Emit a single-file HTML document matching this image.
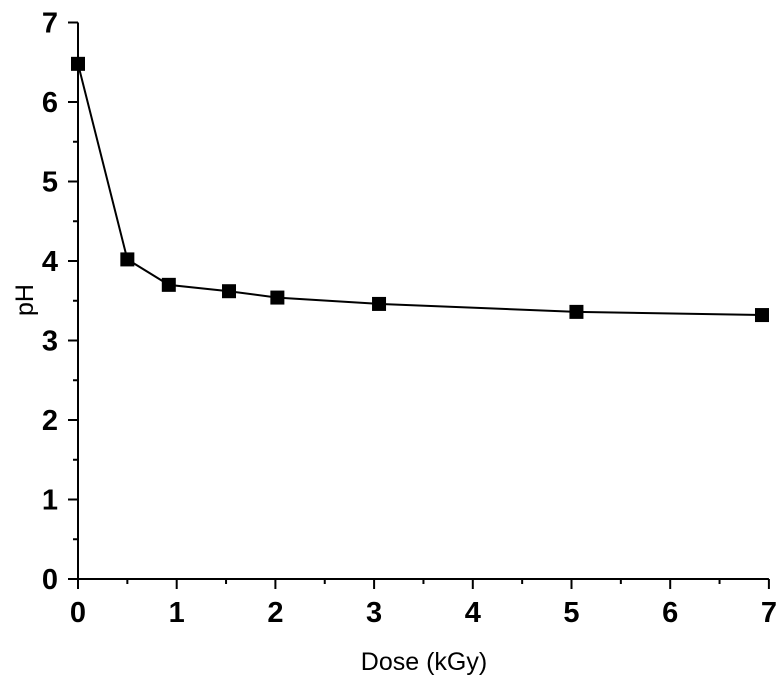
<!DOCTYPE html>
<html><head><meta charset="utf-8"><style>
html,body{margin:0;padding:0;background:#fff;}
svg text{font-family:"Liberation Sans",Arial,sans-serif;fill:#000;}
</style></head><body>
<svg id="chart" width="784" height="680" viewBox="0 0 784 680" xmlns="http://www.w3.org/2000/svg">
<g id="axes"></g>
<g id="series"></g>
<text x="424" y="670" font-size="25" text-anchor="middle">Dose (kGy)</text>
<text transform="translate(33,300) rotate(-90)" font-size="25" text-anchor="middle">pH</text>
</svg>
<script>
const doses = [0, 0.5, 0.92, 1.53, 2.02, 3.05, 5.05, 6.93];
const phValues = [6.48, 4.02, 3.70, 3.62, 3.54, 3.46, 3.36, 3.32];
const xTickLabels = ["0","1","2","3","4","5","6","7"];
const yTickLabels = ["0","1","2","3","4","5","6","7"];

const NS = "http://www.w3.org/2000/svg";
const x = v => 78 + v * 98.7;
const y = v => 579 - v * 79.5;
function mk(tag, attrs, parent){const e=document.createElementNS(NS,tag);for(const k in attrs)e.setAttribute(k,attrs[k]);parent.appendChild(e);return e;}
const axes = document.getElementById('axes');
const series = document.getElementById('series');

const xl = mk('line',{x1:x(0)-10,y1:y(0),x2:x(7),y2:y(0),stroke:'#000','stroke-width':2},axes);


const yl = mk('line',{x1:x(0),y1:y(0)+10,x2:x(0),y2:y(7),stroke:'#000','stroke-width':2},axes);



xTickLabels.forEach((lab,i)=>{
  const v = Number(lab);
  mk('line',{x1:x(v),y1:y(0),x2:x(v),y2:y(0)+10,stroke:'#000','stroke-width':2},axes);
  if(i<xTickLabels.length-1) mk('line',{x1:x(v+0.5),y1:y(0),x2:x(v+0.5),y2:y(0)+5,stroke:'#000','stroke-width':2},axes);
  const t = mk('text',{x:x(v),y:y(0)+43,'font-size':29,'font-weight':'bold','text-anchor':'middle'},axes);
  t.textContent = lab;
  
  
});
yTickLabels.forEach((lab,i)=>{
  const v = Number(lab);
  mk('line',{x1:x(0)-10,y1:y(v),x2:x(0),y2:y(v),stroke:'#000','stroke-width':2},axes);
  if(i<yTickLabels.length-1) mk('line',{x1:x(0)-5,y1:y(v+0.5),x2:x(0),y2:y(v+0.5),stroke:'#000','stroke-width':2},axes);
  const t = mk('text',{x:x(0)-20,y:y(v)+10,'font-size':29,'font-weight':'bold','text-anchor':'end'},axes);
  t.textContent = lab;
  
  
});

const pl = mk('polyline',{points:doses.map((d,i)=>x(d)+','+y(phValues[i])).join(' '),fill:'none',stroke:'#000','stroke-width':2},series);


doses.forEach((d,i)=>{
  const r = mk('rect',{x:x(d)-7,y:y(phValues[i])-7,width:14,height:14,fill:'#000'},series);
  
  
});
</script>
</body></html>
